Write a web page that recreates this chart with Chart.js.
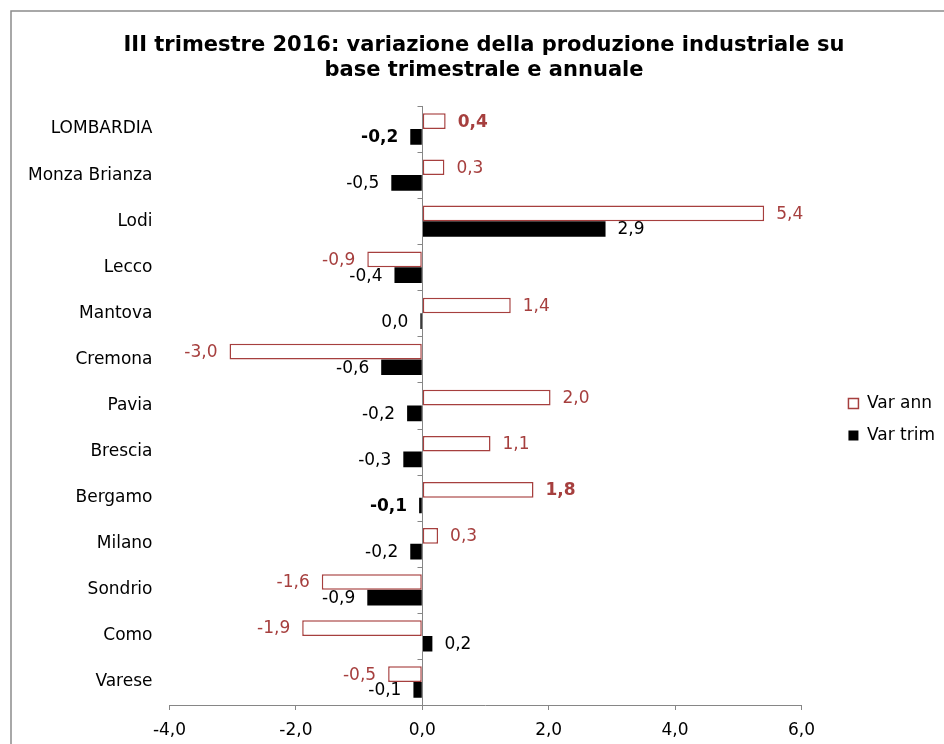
<!DOCTYPE html>
<html>
<head>
<meta charset="utf-8">
<script src="https://cdn.jsdelivr.net/npm/chart.js@4"></script>
<style>
  html, body { margin: 0; padding: 0; background: #fff; }
  #wrap { width: 944px; height: 744px; position: relative; }
</style>
</head>
<body>
<div id="wrap"><canvas id="chart"></canvas></div>
<script>
// Data
const categories = ['LOMBARDIA', 'Monza Brianza', 'Lodi', 'Lecco', 'Mantova', 'Cremona', 'Pavia', 'Brescia', 'Bergamo', 'Milano', 'Sondrio', 'Como', 'Varese'];
const varAnn = [0.37, 0.35, 5.41, -0.87, 1.40, -3.05, 2.03, 1.08, 1.76, 0.25, -1.59, -1.90, -0.54];
const varTrim = [-0.19, -0.49, 2.90, -0.44, -0.03, -0.65, -0.24, -0.30, -0.05, -0.19, -0.87, 0.16, -0.14];
const annLabels = ['0,4', '0,3', '5,4', '-0,9', '1,4', '-3,0', '2,0', '1,1', '1,8', '0,3', '-1,6', '-1,9', '-0,5'];
const trimLabels = ['-0,2', '-0,5', '2,9', '-0,4', '0,0', '-0,6', '-0,2', '-0,3', '-0,1', '-0,2', '-0,9', '0,2', '-0,1'];
const boldRows = [0, 8];
const xTicks = [-4, -2, 0, 2, 4, 6];

const FONT = "'DejaVu Sans', Verdana, sans-serif";
const RED = '#A63F3E';
const AXIS = '#868686';

// Outer frame
const framePlugin = {
  id: 'frame',
  beforeDraw(chart) {
    const c = chart.ctx;
    c.save();
    c.fillStyle = '#fff';
    c.fillRect(0, 0, chart.width, chart.height);
    c.strokeStyle = '#8c8c8c';
    c.lineWidth = 1.5;
    c.strokeRect(11, 11, chart.width + 20, chart.height + 20);
    c.restore();
  }
};

// Nudge legend and title to where the original has them
const boxShift = {
  id: 'boxShift',
  afterLayout(chart) {
    const lg = chart.legend;
    lg.left += 32; lg.right += 32;
    lg.top += 31; lg.bottom += 31;
    const t = chart.titleBlock;
    t.left += 18; t.right += 18;
  }
};

// Vertical axis at zero with tick marks between categories
const zeroAxisPlugin = {
  id: 'zeroAxis',
  afterDatasetsDraw(chart) {
    const c = chart.ctx;
    const x0 = Math.round(chart.scales.x.getPixelForValue(0)) + 0.5;
    const area = chart.chartArea;
    const band = (area.bottom - area.top) / categories.length;
    c.save();
    c.strokeStyle = AXIS;
    c.lineWidth = 1;
    c.beginPath();
    c.moveTo(x0, area.top);
    c.lineTo(x0, area.bottom);
    for (let i = 0; i <= categories.length; i++) {
      const y = Math.round(area.top + i * band) + 0.5;
      c.moveTo(x0 - 5, y);
      c.lineTo(x0, y);
    }
    c.stroke();
    c.restore();
  }
};

// Value labels at bar ends
const valueLabelPlugin = {
  id: 'valueLabels',
  afterDatasetsDraw(chart) {
    const c = chart.ctx;
    const texts = [annLabels, trimLabels];
    const colors = [RED, '#000'];
    c.save();
    c.textBaseline = 'middle';
    chart.data.datasets.forEach((ds, di) => {
      const meta = chart.getDatasetMeta(di);
      meta.data.forEach((bar, i) => {
        const v = ds.data[i];
        const bold = boldRows.includes(i);
        c.font = (bold ? 'bold ' : '') + '17px ' + FONT;
        c.fillStyle = colors[di];
        if (v >= 0) {
          c.textAlign = 'left';
          c.fillText(texts[di][i], bar.x + 12, bar.y + 1);
        } else {
          c.textAlign = 'right';
          c.fillText(texts[di][i], bar.x - 12, bar.y + 1);
        }
      });
    });
    c.restore();
  }
};

const ctx = document.getElementById('chart').getContext('2d');
const chart = new Chart(ctx, {
  type: 'bar',
  data: {
    labels: categories,
    datasets: [
      {
        label: 'Var ann',
        data: varAnn,
        backgroundColor: '#ffffff',
        borderColor: RED,
        borderWidth: 1.5,
        borderSkipped: false,
        categoryPercentage: 0.68,
        barPercentage: 1.0
      },
      {
        label: 'Var trim',
        data: varTrim,
        backgroundColor: '#000000',
        borderWidth: 0,
        categoryPercentage: 0.68,
        barPercentage: 1.0
      }
    ]
  },
  options: {
    indexAxis: 'y',
    responsive: true,
    maintainAspectRatio: false,
    animation: false,
    layout: { padding: { top: 33, right: 31, bottom: 0, left: 19 } },
    plugins: {
      title: {
        display: true,
        text: ['III trimestre 2016: variazione della produzione industriale su', 'base trimestrale e annuale'],
        color: '#000',
        font: { family: FONT, size: 21, weight: 'bold', lineHeight: 1.19 },
        padding: { top: 0, bottom: 23 }
      },
      legend: {
        position: 'right',
        labels: {
          color: '#000',
          font: { family: FONT, size: 17 },
          boxWidth: 10,
          boxHeight: 10,
          padding: 15
        }
      },
      tooltip: { enabled: false }
    },
    scales: {
      x: {
        min: -4,
        max: 6,
        afterBuildTicks(axis) {
          axis.ticks = xTicks.map(v => ({ value: v }));
        },
        afterFit(axis) {
          axis.height = 39;
        },
        border: { display: true, color: AXIS, width: 1 },
        grid: { drawOnChartArea: false, drawTicks: true, tickLength: 5, color: AXIS },
        ticks: {
          color: '#000',
          font: { family: FONT, size: 17 },
          padding: 10,
          callback: v => v.toFixed(1).replace('.', ',')
        }
      },
      y: {
        border: { display: false },
        grid: { display: false },
        ticks: {
          color: '#000',
          font: { family: FONT, size: 17 },
          padding: 9
        }
      }
    }
  },
  plugins: [framePlugin, boxShift, zeroAxisPlugin, valueLabelPlugin]
});
</script>
</body>
</html>
